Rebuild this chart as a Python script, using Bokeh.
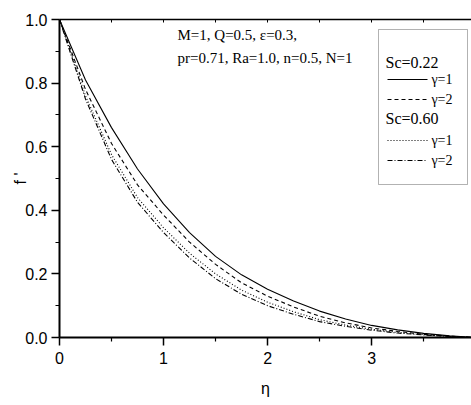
from bokeh.plotting import figure
from bokeh.models import (Range1d, FixedTicker, PrintfTickFormatter, LinearAxis,
                          Label, Arrow, BoxAnnotation)
from bokeh.embed import file_html
from bokeh.resources import INLINE

# ---- data ----
eta = [0.0, 0.25, 0.5, 0.75, 1.0, 1.25, 1.5, 1.75, 2.0, 2.25, 2.5, 2.75, 3.0, 3.25, 3.5, 3.75, 4.0]
sc022_g1 = [1.0, 0.81, 0.66, 0.53, 0.42, 0.33, 0.255, 0.197, 0.152, 0.115, 0.083, 0.058, 0.038, 0.024, 0.013, 0.005, 0.0]
sc022_g2 = [1.0, 0.78, 0.61, 0.48, 0.385, 0.30, 0.23, 0.172, 0.13, 0.096, 0.067, 0.046, 0.030, 0.019, 0.010, 0.004, 0.0]
sc060_g1 = [1.0, 0.76, 0.575, 0.44, 0.345, 0.265, 0.20, 0.149, 0.111, 0.081, 0.056, 0.039, 0.026, 0.016, 0.009, 0.003, 0.0]
sc060_g2 = [1.0, 0.75, 0.56, 0.425, 0.33, 0.25, 0.185, 0.136, 0.100, 0.073, 0.050, 0.035, 0.023, 0.014, 0.008, 0.003, 0.0]

x_ticks = [0, 1, 2, 3, 4]
x_minor = [0.5, 1.5, 2.5, 3.5]
y_ticks = [0.0, 0.2, 0.4, 0.6, 0.8, 1.0]
y_minor = [0.1, 0.3, 0.5, 0.7, 0.9]
top_ticks = [0.5, 1, 1.5, 2, 2.5, 3, 3.5]

series = [
    (sc022_g1, "solid"),
    (sc022_g2, "4 3"),
    (sc060_g1, "1 2"),
    (sc060_g2, "5 2 1 2"),
]

SANS = "Liberation Sans"
SERIF = "Liberation Serif"

p = figure(width=471, height=405, output_backend="svg", toolbar_location=None,
           x_range=Range1d(0, 3.96), y_range=Range1d(0, 1.0),
           min_border_left=59, min_border_right=0, min_border_top=19, min_border_bottom=68,
           x_axis_label="η", y_axis_label="f '")
p.outline_line_color = None
p.grid.visible = False
p.background_fill_color = "white"
p.border_fill_color = "white"

for ys, dash in series:
    p.line(eta, ys, line_color="black", line_width=1.1, line_dash=dash)

# axes styling
xa = p.xaxis[0]
xa.ticker = FixedTicker(ticks=x_ticks, minor_ticks=x_minor)
xa.formatter = PrintfTickFormatter(format="%d")
ya = p.yaxis[0]
ya.ticker = FixedTicker(ticks=y_ticks, minor_ticks=y_minor)
ya.formatter = PrintfTickFormatter(format="%.1f")
for ax in (xa, ya):
    ax.axis_line_width = 2
    ax.axis_line_color = "black"
    ax.major_tick_line_width = 1.5
    ax.minor_tick_line_width = 1.2
    ax.major_tick_line_color = "black"
    ax.minor_tick_line_color = "black"
    ax.major_tick_out = 8
    ax.major_tick_in = 0
    ax.minor_tick_out = 4
    ax.minor_tick_in = 0
    ax.major_label_text_font = SANS
    ax.major_label_text_font_size = "16px"
    ax.major_label_text_color = "black"
    ax.axis_label_text_font = SANS
    ax.axis_label_text_font_size = "16px"
    ax.axis_label_text_font_style = "normal"
    ax.axis_label_text_color = "black"
xa.major_label_standoff = 6
xa.axis_label_standoff = 13
ya.major_label_standoff = 4
ya.axis_label_standoff = -7

# top frame line with small inward ticks (no labels)
top = LinearAxis(ticker=FixedTicker(ticks=[], minor_ticks=top_ticks),
                 axis_line_width=1.5, axis_line_color="black",
                 minor_tick_in=3, minor_tick_out=0, minor_tick_line_color="black",
                 major_tick_in=0, major_tick_out=0)
p.add_layout(top, "above")

# parameter annotation (screen units, relative to plot frame)
ann_font = "15px"
p.add_layout(Label(x=118, y=303, x_units="screen", y_units="screen",
                   text="M=1, Q=0.5, ε=0.3,", text_font=SERIF, text_font_size=ann_font,
                   text_baseline="middle", text_color="black"))
p.add_layout(Label(x=118, y=280, x_units="screen", y_units="screen",
                   text="pr=0.71, Ra=1.0, n=0.5, N=1", text_font=SERIF, text_font_size=ann_font,
                   text_baseline="middle", text_color="black"))

# legend box
p.add_layout(BoxAnnotation(left=319, right=408, top=308, bottom=153,
                           left_units="screen", right_units="screen",
                           top_units="screen", bottom_units="screen",
                           fill_alpha=0, line_color="black", line_width=1))
headers = [("Sc=0.22", 275), ("Sc=0.60", 219)]
for txt, yy in headers:
    p.add_layout(Label(x=326, y=yy, x_units="screen", y_units="screen", text=txt,
                       text_font=SERIF, text_font_size="16px", text_baseline="middle",
                       text_color="black"))
entries = [("γ=1", 258, "solid"), ("γ=2", 238, "4 3"), ("γ=1", 197, "1 2"), ("γ=2", 177, "5 2 1 2")]
for txt, yy, dash in entries:
    p.add_layout(Arrow(end=None, x_start=328, y_start=yy, x_end=368, y_end=yy,
                       start_units="screen", end_units="screen",
                       line_color="black", line_width=1, line_dash=dash))
    p.add_layout(Label(x=393, y=yy, x_units="screen", y_units="screen", text=txt,
                       text_font=SERIF, text_font_size="14px", text_baseline="middle",
                       text_align="right", text_color="black"))

open("out.html", "w").write(file_html(p, INLINE))
